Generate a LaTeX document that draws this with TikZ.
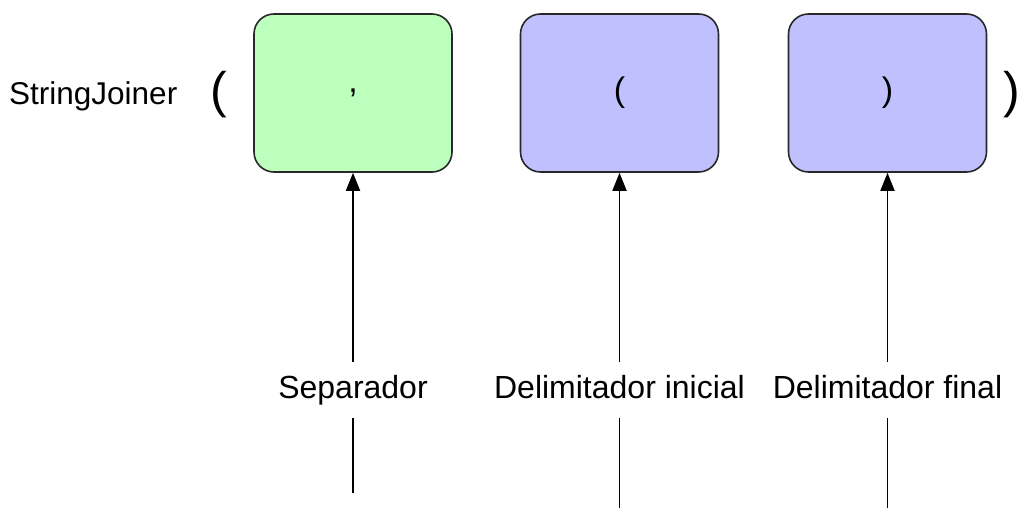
\documentclass[tikz,border=0pt]{standalone}
\usepackage{fontspec}
\setmainfont{Liberation Sans}
\usetikzlibrary{arrows.meta}
\definecolor{sepgreen}{RGB}{189,255,189}
\definecolor{delblue}{RGB}{192,192,255}
\definecolor{edge}{RGB}{40,40,40}
\begin{document}
\begin{tikzpicture}[x=1pt,y=-1pt,
  box/.style={draw=edge,line width=1.6pt,rounded corners=20pt,minimum width=198pt,minimum height=158pt,inner sep=0pt,
    font=\fontsize{34}{40}\selectfont},
  lbl/.style={inner sep=0pt,minimum height=56pt,text height=22pt,text depth=6pt,font=\fontsize{32}{38}\selectfont},
  big/.style={inner sep=0pt,font=\fontsize{50}{58}\selectfont},
  conn/.style={line width=1.8pt,black},
  arr/.style={conn,-{Triangle[length=18pt,width=14pt]}}]
\useasboundingbox (0,0) rectangle (1022,508);
\node[anchor=west,inner sep=0pt,font=\fontsize{31.5}{38}\selectfont] (title) at (9,96) {StringJoiner};
\node[big] (lp) at (219,95) {(};
\node[big] (rp) at (1012,95) {)};
\node[box,fill=sepgreen] (sep) at (353,93) {,};
\node[box,fill=delblue] (ini) at (619.5,93) {(};
\node[box,fill=delblue] (fin) at (887.5,93) {)};
\node[lbl] (lsep) at (353,390) {Separador};
\node[lbl] (lini) at (619.5,390) {Delimitador inicial};
\node[lbl] (lfin) at (887.5,390) {Delimitador final};
\coordinate (bsep) at (353,493);
\coordinate (bini) at (619.5,508);
\coordinate (bfin) at (887.5,508);
\draw[conn] (bsep) -- (lsep);
\draw[arr] (lsep) -- (sep);
\draw[conn] (bini) -- (lini);
\draw[arr] (lini) -- (ini);
\draw[conn] (bfin) -- (lfin);
\draw[arr] (lfin) -- (fin);
\end{tikzpicture}
\end{document}
